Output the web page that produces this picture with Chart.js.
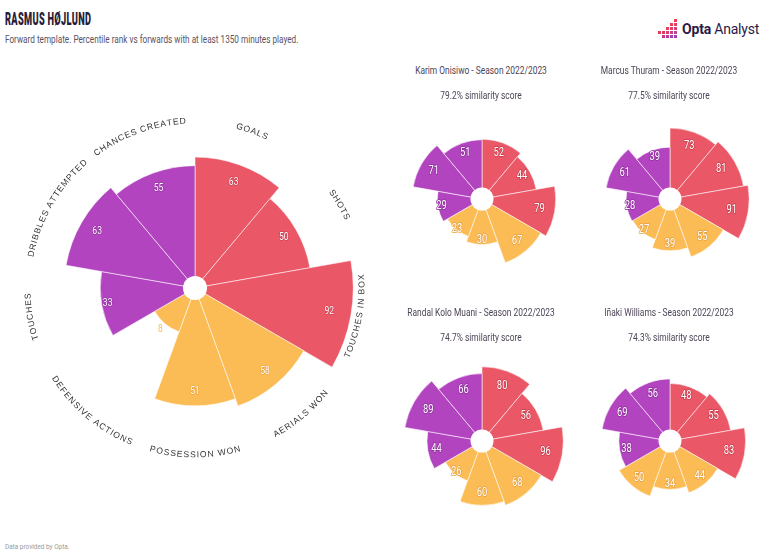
<!DOCTYPE html>
<html>
<head>
<meta charset="utf-8">
<script src="https://cdn.jsdelivr.net/npm/chart.js@4"></script>
<style>
  html, body { margin: 0; padding: 0; background: #fff; }
  body { width: 768px; height: 558px; position: relative; overflow: hidden; font-family: Roboto, 'Liberation Sans', sans-serif; }
  .abs { position: absolute; white-space: nowrap; }
  .narrow { transform-origin: left center; }
  #title { left: 5px; top: 8px; font-size: 18.5px; font-weight: 900; color: #2a1d3a; transform: scaleX(0.5); letter-spacing: 0.6px; }
  #subtitle { left: 5px; top: 33px; font-size: 10.5px; color: #5b5264; transform: scaleX(0.78); }
  #footer { left: 5px; top: 542px; font-size: 8px; color: #9a9a9a; transform: scaleX(0.8); }
  .ptitle { font-size: 10.5px; color: #4d4456; transform: translateX(-50%) scaleX(0.8); }
  .pscore { font-size: 10.5px; color: #4d4456; transform: translateX(-50%) scaleX(0.8); }
  canvas { position: absolute; }
  #logo { left: 658px; top: 19px; width: 104px; height: 22px; }
  #logo .sq { position: absolute; width: 3px; height: 3px; }
  #logo .txt { position: absolute; left: 24px; top: 2px; font-size: 14px; color: #2b1a45; letter-spacing: -0.2px; }
</style>
</head>
<body>
<div id="title" class="abs narrow">RASMUS HØJLUND</div>
<div id="subtitle" class="abs narrow">Forward template. Percentile rank vs forwards with at least 1350 minutes played.</div>
<div id="logo" class="abs"><span class="txt"><b>Opta</b> Analyst</span></div>
<div id="footer" class="abs narrow">Data provided by Opta.</div>

<canvas id="main" width="390" height="390" style="left:0px;top:93px"></canvas>
<canvas id="c0" width="186" height="186" style="left:389px;top:106px"></canvas>
<canvas id="c1" width="186" height="186" style="left:577px;top:106px"></canvas>
<canvas id="c2" width="186" height="186" style="left:389px;top:348px"></canvas>
<canvas id="c3" width="186" height="186" style="left:577px;top:348px"></canvas>

<script>
// ── Data ──────────────────────────────────────────────────────
const categories = ['Goals', 'Shots', 'Touches in box', 'Aerials won', 'Possession won',
  'Defensive actions', 'Touches', 'Dribbles attempted', 'Chances created'];
const groupColors = ['#ea5766', '#ea5766', '#ea5766', '#fbbb55', '#fbbb55', '#fbbb55', '#b245bf', '#b245bf', '#b245bf'];
const groupDark   = ['#c93a4b', '#c93a4b', '#c93a4b', '#e9a03c', '#e9a03c', '#e9a03c', '#8f2c9c', '#8f2c9c', '#8f2c9c'];

const hojlund   = [63, 50, 92, 58, 51, 8, 33, 63, 55];
const onisiwo   = [52, 44, 79, 67, 30, 23, 29, 71, 51];
const thuram    = [73, 81, 91, 55, 39, 27, 28, 61, 39];
const koloMuani = [80, 56, 96, 68, 60, 26, 44, 89, 66];
const williams  = [48, 55, 83, 44, 34, 50, 38, 69, 56];

const compNames  = ['Karim Onisiwo', 'Marcus Thuram', 'Randal Kolo Muani', 'Iñaki Williams'];
const compSeason = 'Season 2022/2023';
const compScores = ['79.2%', '77.5%', '74.7%', '74.3%'];
const compValues = [onisiwo, thuram, koloMuani, williams];

// ── Pizza plugin: centre hole, value labels, category labels ─────
const pizzaPlugin = {
  id: 'pizza',
  afterDatasetsDraw(chart, args, opts) {
    const ctx = chart.ctx;
    const scale = chart.scales.r;
    const cx = scale.xCenter, cy = scale.yCenter, R = scale.drawingArea;
    const meta = chart.getDatasetMeta(0);
    const vals = opts.values;

    // value labels
    ctx.save();
    ctx.font = opts.valueFont;
    ctx.textAlign = 'center';
    ctx.textBaseline = 'middle';
    meta.data.forEach((arc, i) => {
      const mid = (arc.startAngle + arc.endAngle) / 2;
      let r = R * (opts.la + opts.lb * vals[i]);
      let outside = vals[i] < 12;
      if (outside) r = arc.outerRadius + 7;
      const x = cx + r * Math.cos(mid), y = cy + r * Math.sin(mid);
      ctx.save();
      ctx.translate(x, y);
      ctx.scale(0.78, 1);
      if (!outside) {
        ctx.lineWidth = opts.strokeW;
        ctx.strokeStyle = groupDark[i];
        ctx.lineJoin = 'round';
        ctx.strokeText(String(vals[i]), 0, 0);
      }
      ctx.fillStyle = outside ? groupColors[i] : '#fff';
      ctx.fillText(String(vals[i]), 0, 0);
      ctx.restore();
    });
    ctx.restore();

    // centre hole
    ctx.save();
    ctx.beginPath();
    ctx.arc(cx, cy, opts.hole, 0, Math.PI * 2);
    ctx.fillStyle = '#fff';
    ctx.fill();
    ctx.restore();

    // curved category labels
    if (opts.catLabels) {
      ctx.save();
      ctx.font = '8.6px "Liberation Sans", Arial, sans-serif';
      ctx.fillStyle = '#333';
      ctx.textAlign = 'center';
      ctx.textBaseline = 'middle';
      const spacing = 0.9;
      const rr = opts.labelRadius;
      meta.data.forEach((arc, i) => {
        const mid = (arc.startAngle + arc.endAngle) / 2 + Math.PI / 2; // clockwise from top
        const m = (mid + Math.PI * 2) % (Math.PI * 2);
        const text = categories[i].toUpperCase();
        const chars = [...text];
        const ws = chars.map(c => ctx.measureText(c).width);
        const total = ws.reduce((a, b) => a + b, 0) + spacing * (chars.length - 1);
        const bottom = m > Math.PI / 2 && m < Math.PI * 1.42;
        let acc = 0;
        chars.forEach((c, k) => {
          const off = (acc + ws[k] / 2 - total / 2) / rr;
          acc += ws[k] + spacing;
          const a = bottom ? m - off : m + off;
          const x = cx + rr * Math.sin(a), y = cy - rr * Math.cos(a);
          ctx.save();
          ctx.translate(x, y);
          ctx.rotate(bottom ? a - Math.PI : a);
          ctx.fillText(c, 0, 0);
          ctx.restore();
        });
      });
      ctx.restore();
    }
  }
};

function makePizza(id, values, cfg) {
  return new Chart(document.getElementById(id), {
    type: 'polarArea',
    data: {
      labels: categories,
      datasets: [{
        data: values.map(v => Math.sqrt(v)),
        backgroundColor: groupColors,
        borderColor: 'rgba(255,255,255,0.55)',
        borderWidth: 1
      }]
    },
    options: {
      responsive: false,
      animation: false,
      layout: { padding: cfg.padding },
      scales: {
        r: {
          min: 0, max: 10,
          ticks: { display: false },
          grid: { display: false },
          angleLines: { display: false },
          pointLabels: { display: false }
        }
      },
      plugins: {
        legend: { display: false },
        tooltip: { enabled: false },
        pizza: Object.assign({ values }, cfg)
      }
    },
    plugins: [pizzaPlugin]
  });
}

makePizza('main', hojlund, {
  padding: 30, hole: 12, la: 0.376, lb: 0.0049, strokeW: 1.2,
  valueFont: '11px Roboto, sans-serif', catLabels: true, labelRadius: 167
});

const smallIds = ['c0', 'c1', 'c2', 'c3'];
smallIds.forEach((id, i) => {
  makePizza(id, compValues[i], {
    padding: 10, hole: 11.5, la: 0.373, lb: 0.0042, strokeW: 1.6,
    valueFont: '12px Roboto, sans-serif', catLabels: false
  });
});

// ── Comparison titles ────────────────────────────────────────
const titlePos = [[481, 64], [669, 64], [481, 306], [669, 306]];
titlePos.forEach(([x, y], i) => {
  const t = document.createElement('div');
  t.className = 'abs ptitle';
  t.style.left = x + 'px'; t.style.top = y + 'px';
  t.textContent = compNames[i] + ' - ' + compSeason;
  document.body.appendChild(t);
  const s = document.createElement('div');
  s.className = 'abs pscore';
  s.style.left = x + 'px'; s.style.top = (y + 25) + 'px';
  s.textContent = compScores[i] + ' similarity score';
  document.body.appendChild(s);
});

// ── Logo squares ─────────────────────────────────────────────
const logo = document.getElementById('logo');
const sqCols = [
  [[3, '#e33d5a']],
  [[3, '#dd3d66'], [4, '#c83e86']],
  [[2, '#e8405a'], [3, '#d93f6e'], [4, '#bb3f9a']],
  [[1, '#ec3f55'], [2, '#df3f68'], [3, '#c83f86'], [4, '#a840b4']],
  [[0, '#ee3f52'], [1, '#e33f60'], [2, '#d23f78'], [3, '#bc3f98'], [4, '#a040bd']]
];
sqCols.forEach((col, cx) => {
  col.forEach(([row, color]) => {
    const d = document.createElement('div');
    d.className = 'sq';
    d.style.left = (cx * 4) + 'px';
    d.style.top = (row * 4) + 'px';
    d.style.background = color;
    logo.appendChild(d);
  });
});
</script>
</body>
</html>
